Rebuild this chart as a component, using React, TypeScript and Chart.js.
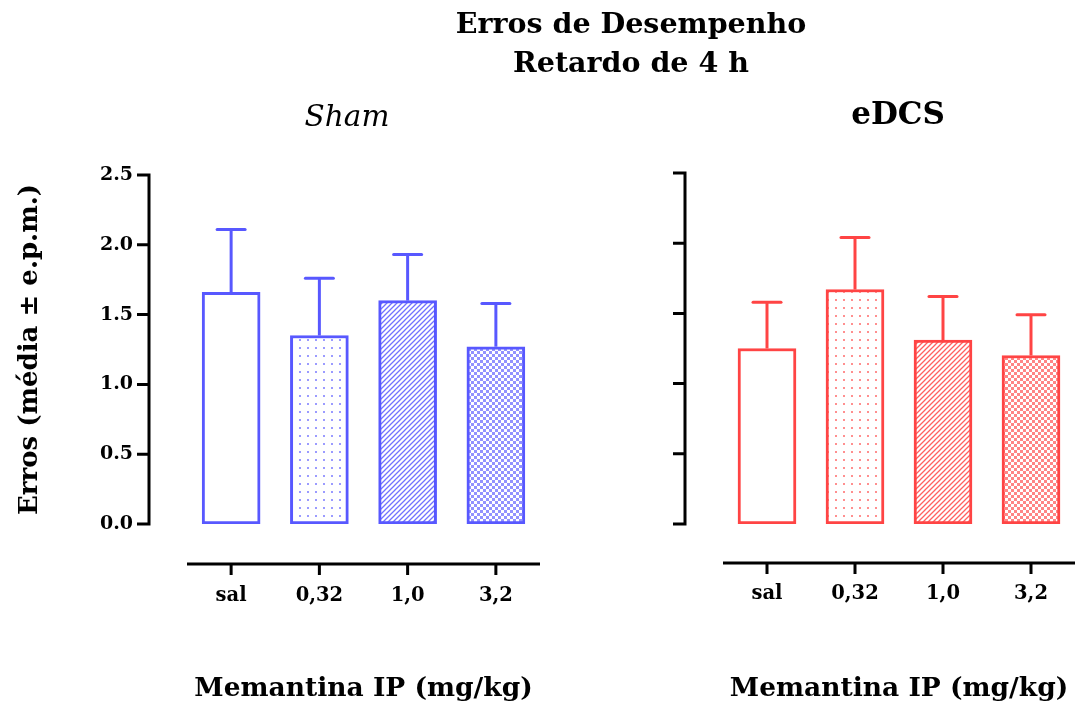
import React, { useEffect, useRef } from 'react';
import { Chart, registerables } from 'chart.js';

Chart.register(...registerables);

// ---------- data ----------
const categories = ['sal', '0,32', '1,0', '3,2'];
const shamMean = [1.66, 1.35, 1.6, 1.27];
const shamSem = [0.45, 0.41, 0.33, 0.31];
const edcsMean = [1.25, 1.67, 1.31, 1.2];
const edcsSem = [0.33, 0.37, 0.31, 0.29];
const yTicks = [0, 0.5, 1.0, 1.5, 2.0, 2.5];

const mainTitle = ['Erros de Desempenho', 'Retardo de 4 h'];
const shamTitle = 'Sham';
const edcsTitle = 'eDCS';
const yTitle = 'Erros (média ± e.p.m.)';
const xTitle = 'Memantina IP (mg/kg)';

// ---------- styles ----------
const FONT = "'DejaVu Serif', serif";
const BLUE: [number, number, number] = [88, 88, 255];
const RED: [number, number, number] = [255, 68, 68];

const rgba = (c: [number, number, number], a = 1) => `rgba(${c[0]},${c[1]},${c[2]},${a})`;

function tile(size: number, draw: (g: CanvasRenderingContext2D) => void) {
  const c = document.createElement('canvas');
  c.width = size;
  c.height = size;
  const g = c.getContext('2d')!;
  g.fillStyle = '#fff';
  g.fillRect(0, 0, size, size);
  draw(g);
  return c;
}

function makePatterns(ctx: CanvasRenderingContext2D, col: [number, number, number]) {
  const dots = tile(8, (g) => {
    g.fillStyle = rgba(col, 0.6);
    g.fillRect(3, 3, 2, 2);
  });
  const diag = tile(5, (g) => {
    g.strokeStyle = rgba(col, 0.85);
    g.lineWidth = 1.3;
    g.beginPath();
    g.moveTo(-1, 6);
    g.lineTo(6, -1);
    g.moveTo(-1, 1);
    g.lineTo(1, -1);
    g.moveTo(4, 6);
    g.lineTo(6, 4);
    g.stroke();
  });
  const check = tile(6, (g) => {
    g.fillStyle = rgba(col, 0.65);
    g.fillRect(0, 0, 3, 3);
    g.fillRect(3, 3, 3, 3);
  });
  return [
    '#ffffff',
    ctx.createPattern(dots, 'repeat')!,
    ctx.createPattern(diag, 'repeat')!,
    ctx.createPattern(check, 'repeat')!,
  ];
}

// ---------- plugins ----------
const axesPlugin = {
  id: 'offsetAxes',
  afterDraw(chart: any, _args: any, opts: any) {
    const { ctx, chartArea, scales } = chart;
    const x = scales.x;
    const y = scales.y;
    ctx.save();
    ctx.strokeStyle = '#000';
    ctx.lineWidth = 3;
    ctx.lineCap = 'butt';
    const ax = chartArea.left - opts.yGap;
    const yTop = y.getPixelForValue(y.max);
    const yBot = y.getPixelForValue(y.min);
    ctx.beginPath();
    ctx.moveTo(ax, yTop - 1.5);
    ctx.lineTo(ax, yBot + 1.5);
    y.ticks.forEach((t: any) => {
      const py = y.getPixelForValue(t.value);
      ctx.moveTo(ax - 12, py);
      ctx.lineTo(ax, py);
    });
    ctx.stroke();
    const ay = chartArea.bottom + opts.xGap;
    ctx.beginPath();
    ctx.moveTo(chartArea.left, ay);
    ctx.lineTo(chartArea.right, ay);
    x.ticks.forEach((_t: any, i: number) => {
      const px = x.getPixelForValue(i);
      ctx.moveTo(px, ay);
      ctx.lineTo(px, ay + 11);
    });
    ctx.stroke();
    ctx.restore();
  },
};

const errorBarPlugin = {
  id: 'semBars',
  afterDatasetsDraw(chart: any, _args: any, opts: any) {
    const { ctx, scales } = chart;
    const x = scales.x;
    const y = scales.y;
    const means: number[] = chart.data.datasets[0].data;
    ctx.save();
    ctx.strokeStyle = opts.color;
    ctx.lineWidth = 3;
    means.forEach((m, i) => {
      const px = x.getPixelForValue(i);
      const pm = y.getPixelForValue(m);
      const pt = y.getPixelForValue(m + opts.sem[i]);
      ctx.beginPath();
      ctx.lineCap = 'butt';
      ctx.moveTo(px, pm);
      ctx.lineTo(px, pt);
      ctx.stroke();
      ctx.beginPath();
      ctx.lineCap = 'round';
      ctx.moveTo(px - 14, pt);
      ctx.lineTo(px + 14, pt);
      ctx.stroke();
    });
    ctx.restore();
  },
};

const textPlugin = {
  id: 'freeTexts',
  afterDraw(chart: any, _args: any, opts: any) {
    const { ctx } = chart;
    ctx.save();
    ctx.fillStyle = '#000';
    ctx.textAlign = 'center';
    ctx.textBaseline = 'alphabetic';
    (opts.items || []).forEach((it: any) => {
      ctx.font = it.font;
      ctx.fillText(it.text, it.x, it.y);
    });
    ctx.restore();
  },
};

// ---------- chart factory ----------
function buildConfig(
  ctx: CanvasRenderingContext2D,
  means: number[],
  sem: number[],
  col: [number, number, number],
  side: 'left' | 'right'
): any {
  const isLeft = side === 'left';
  const texts = isLeft
    ? [
        { text: mainTitle[0], x: 631, y: 33, font: `bold 28.5px ${FONT}` },
        { text: mainTitle[1], x: 631, y: 72, font: `bold 28.5px ${FONT}` },
        { text: shamTitle, x: 347, y: 126, font: `italic 29.5px ${FONT}` },
      ]
    : [{ text: edcsTitle, x: 898, y: 124, font: `bold 31px ${FONT}` }];
  return {
    type: 'bar',
    data: {
      labels: categories,
      datasets: [
        {
          data: means,
          backgroundColor: makePatterns(ctx, col),
          borderColor: rgba(col),
          borderWidth: 3,
          borderSkipped: false,
          barThickness: 58,
        },
      ],
    },
    plugins: [axesPlugin, errorBarPlugin, textPlugin],
    options: {
      responsive: false,
      animation: false,
      events: [],
      layout: {
        padding: isLeft
          ? { left: 0, right: 536, top: 175, bottom: 0 }
          : { left: 0, right: 1, top: 173, bottom: 0 },
      },
      plugins: {
        legend: { display: false },
        tooltip: { enabled: false },
        title: { display: false },
        offsetAxes: { yGap: 38, xGap: isLeft ? 40 : 39 },
        semBars: { sem, color: rgba(col) },
        freeTexts: { items: texts },
      },
      scales: {
        x: {
          type: 'category',
          offset: true,
          grid: { display: false, drawTicks: true, tickLength: isLeft ? 60 : 58 },
          border: { display: false },
          ticks: {
            color: '#000',
            font: { family: FONT, weight: 'bold', size: 19.5 },
            padding: 0,
          },
          title: {
            display: true,
            text: xTitle,
            color: '#000',
            font: { family: FONT, weight: 'bold', size: 26.5 },
            padding: { top: 0, bottom: 1 },
          },
          afterFit: (s: any) => {
            s.height = 706 - 524;
          },
        },
        y: {
          min: 0,
          max: 2.5,
          grid: { display: false, drawTicks: false },
          border: { display: false },
          afterBuildTicks: (s: any) => {
            s.ticks = yTicks.map((v) => ({ value: v }));
          },
          ticks: {
            display: isLeft,
            color: '#000',
            font: { family: FONT, weight: 'bold', size: 19 },
            padding: 54,
            callback: (v: any) => Number(v).toFixed(1),
          },
          title: {
            display: isLeft,
            text: yTitle,
            color: '#000',
            font: { family: FONT, weight: 'bold', size: 26 },
            padding: { top: 15, bottom: 0 },
          },
          afterFit: (s: any) => {
            s.width = isLeft ? 187 : 723;
          },
        },
      },
    },
  };
}

function Panel({ means, sem, col, side }: { means: number[]; sem: number[]; col: [number, number, number]; side: 'left' | 'right' }) {
  const ref = useRef<HTMLCanvasElement>(null);
  useEffect(() => {
    const canvas = ref.current!;
    const ctx = canvas.getContext('2d')!;
    const chart = new Chart(ctx, buildConfig(ctx, means, sem, col, side));
    return () => chart.destroy();
  }, []);
  return (
    <canvas
      ref={ref}
      width={1076}
      height={706}
      style={{ position: 'absolute', left: 0, top: 0, width: 1076, height: 706 }}
    />
  );
}

export default function App() {
  return (
    <div style={{ position: 'absolute', left: 0, top: 0, width: 1076, height: 706, background: '#fff', overflow: 'hidden' }}>
      <Panel means={shamMean} sem={shamSem} col={BLUE} side="left" />
      <Panel means={edcsMean} sem={edcsSem} col={RED} side="right" />
    </div>
  );
}
